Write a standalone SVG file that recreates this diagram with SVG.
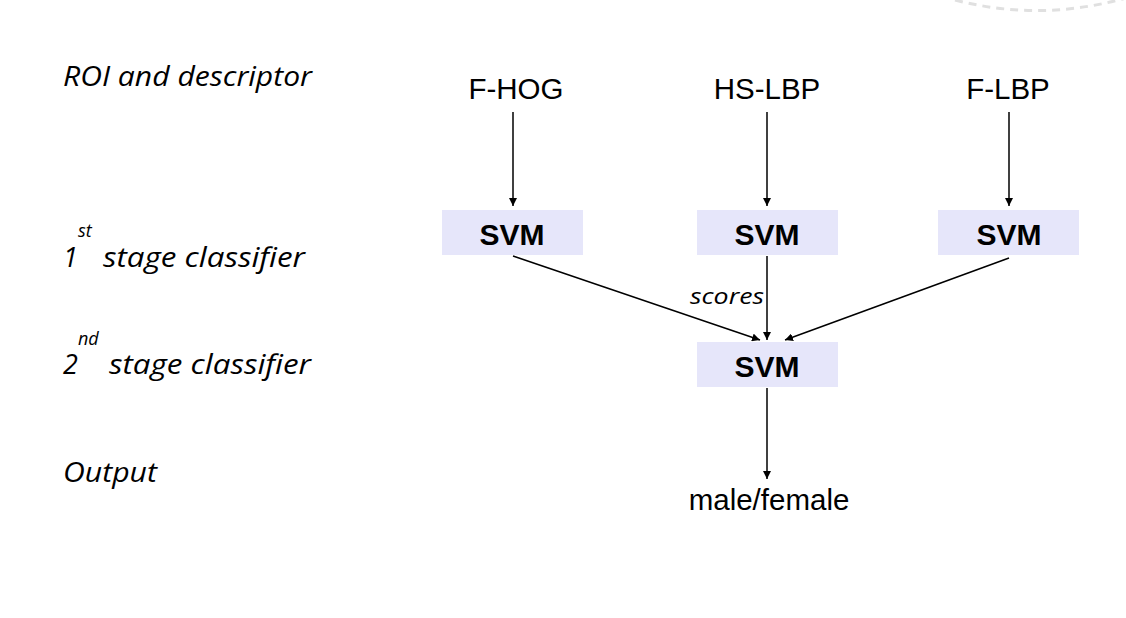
<svg xmlns="http://www.w3.org/2000/svg" width="1126" height="618" viewBox="0 0 1126 618">
<style>
.lab{font-family:"Open Sans","Noto Sans",sans-serif;font-style:italic;font-size:27px;fill:#000}
.sup{font-family:"Open Sans","Noto Sans",sans-serif;font-style:italic;font-size:18px;fill:#000}
.desc{font-family:"Liberation Sans",Arial,sans-serif;font-size:29.5px;fill:#000;text-anchor:middle}
.svm rect{fill:#e6e6fa}
.svm text{font-family:"Liberation Sans",Arial,sans-serif;font-weight:bold;font-size:30px;fill:#000;text-anchor:middle}
.conn line{stroke:#000;stroke-width:1.5;marker-end:url(#ah)}
</style>
<defs>
<marker id="ah" viewBox="0 0 10 10" refX="10" refY="5" markerWidth="8" markerHeight="8" markerUnits="userSpaceOnUse" orient="auto">
<path d="M0,0 L10,5 L0,10 z" fill="#000"/>
</marker>
</defs>
<rect width="1126" height="618" fill="#fff"/>
<path d="M955,0 Q1040,22 1126,-2" fill="none" stroke="#e0e0e0" stroke-width="3" stroke-dasharray="8,6"/>
<g id="left-labels">
<text class="lab" x="63" y="86" textLength="249" lengthAdjust="spacingAndGlyphs">ROI and descriptor</text>
<text class="lab" x="63" y="267">1</text><text class="sup" x="78" y="237">st</text><text class="lab" x="103" y="267" textLength="202" lengthAdjust="spacingAndGlyphs">stage classifier</text>
<text class="lab" x="63" y="374">2</text><text class="sup" x="78" y="345">nd</text><text class="lab" x="109" y="374" textLength="202" lengthAdjust="spacingAndGlyphs">stage classifier</text>
<text class="lab" x="63" y="482" textLength="94" lengthAdjust="spacingAndGlyphs">Output</text>
</g>
<g id="fhog"><text class="desc" x="516" y="99">F-HOG</text></g>
<g id="hslbp"><text class="desc" x="767" y="99">HS-LBP</text></g>
<g id="flbp"><text class="desc" x="1008" y="99">F-LBP</text></g>
<g id="svm1" class="svm"><rect x="442" y="210" width="141" height="45"/><text x="512" y="245">SVM</text></g>
<g id="svm2" class="svm"><rect x="697" y="210" width="141" height="45"/><text x="767" y="245">SVM</text></g>
<g id="svm3" class="svm"><rect x="938" y="210" width="141" height="45"/><text x="1009" y="245">SVM</text></g>
<g id="svm4" class="svm"><rect x="697" y="342" width="141" height="45"/><text x="767" y="377">SVM</text></g>
<g id="output"><text class="desc" x="769" y="510">male/female</text></g>
<g id="connectors" class="conn">
<line x1="513" y1="112" x2="513" y2="206"/>
<line x1="767" y1="112" x2="767" y2="206"/>
<line x1="1009" y1="112" x2="1009" y2="206"/>
<line x1="513" y1="256" x2="760" y2="340"/>
<line x1="767" y1="256" x2="767" y2="340"/>
<line x1="1009" y1="258" x2="785" y2="340"/>
<line x1="767" y1="388" x2="767" y2="479"/>
</g>
<text class="lab" x="690" y="304" style="font-size:22px" textLength="74" lengthAdjust="spacingAndGlyphs">scores</text>
</svg>
